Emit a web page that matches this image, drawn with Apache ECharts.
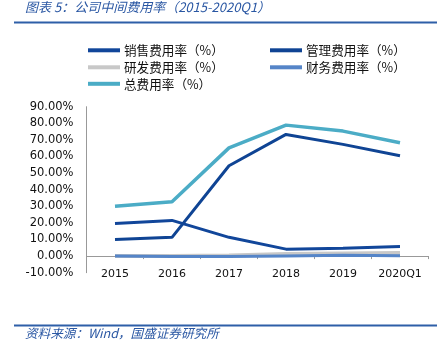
<!DOCTYPE html>
<html><head><meta charset="utf-8">
<script src="https://cdn.jsdelivr.net/npm/echarts@6/dist/echarts.min.js"></script>
<style>html,body{margin:0;padding:0;background:#fff}#c{width:445px;height:357px}</style>
</head><body><div id="c"></div>
<script>
var categories = ['2015','2016','2017','2018','2019','2020Q1'];
var seriesNames = ['销售费用率（%）','管理费用率（%）','研发费用率（%）','财务费用率（%）','总费用率（%）'];
var salesRate = [19.7, 21.5, 11.3, 4.2, 4.8, 5.8];
var mgmtRate = [10.0, 11.3, 54.4, 73.3, 67.3, 60.4];
var rdRate = [0, 0, 0.3, 1.2, 1.6, 1.8];
var finRate = [0.1, -0.3, -0.3, 0.1, 0.5, 0.2];
var totalRate = [30.1, 32.7, 65.2, 78.9, 75.3, 68.3];
var yTicks = {min: -10, max: 90, interval: 10};
var titleText = '图表 5：公司中间费用率（2015-2020Q1）';
var sourceText = '资料来源：Wind，国盛证券研究所';

var colors = ['#11469a', '#0f4494', '#c8c8c8', '#5585c8', '#4bacc6'];
var widths = [3, 3, 4, 3, 3.5];
var values = [salesRate, mgmtRate, rdRate, finRate, totalRate];
var legendPos = [[88,44],[270,44],[88,61],[270,61],[88,77.5]];

var chart = echarts.init(document.getElementById('c'), null, {renderer:'canvas'});
var legends = seriesNames.map(function(n, i){
  return {
    data: [n], left: legendPos[i][0], top: legendPos[i][1],
    icon: 'rect', itemWidth: 32, itemHeight: 4, itemGap: 0,
    padding: 0, selectedMode: false,
    textStyle: {fontFamily: '"Noto Sans CJK SC"', fontSize: 12.6, color: '#111', padding:[0,0,0,-1]}
  };
});
var series = seriesNames.map(function(n, i){
  return {
    name: n, type: 'line', data: values[i], symbol: 'none',
    lineStyle: {color: colors[i], width: widths[i]}, itemStyle: {color: colors[i]},
    z: 2 + i, animation: false
  };
});
chart.setOption({
  animation: false,
  legend: legends,
  grid: {left: 86.5, right: 16.5, top: 106.7, bottom: 84.3, containLabel: false},
  xAxis: [{
    type: 'category', data: categories, boundaryGap: true,
    axisLine: {onZero: true, lineStyle: {color: '#999', width: 1}},
    axisTick: {show: true, inside: false, length: 3, lineStyle: {color: '#999'}},
    axisLabel: {show: false}
  }, {
    type: 'category', data: categories, boundaryGap: true, position: 'bottom',
    axisLine: {show: false, onZero: false}, axisTick: {show: false},
    axisLabel: {margin: -4, fontFamily: '"DejaVu Sans"', fontSize: 11, color: '#111'}
  }],
  yAxis: {
    type: 'value', min: yTicks.min, max: yTicks.max, interval: yTicks.interval,
    splitLine: {show: false},
    axisLine: {show: true, lineStyle: {color: '#999'}},
    axisTick: {show: false},
    axisLabel: {margin: 13, fontFamily: '"DejaVu Sans"', fontSize: 11.5, color: '#111',
      formatter: function(v){ return v.toFixed(2) + '%'; }}
  },
  series: series,
  graphic: [
    {type:'text', left: 25, top: 1, style:{text: titleText, fontFamily:'"Noto Sans CJK SC"', fontStyle:'italic', fontSize: 13, fill:'#2a57a3'}},
    {type:'rect', shape:{x:14, y:21.5, width:423, height:2}, style:{fill:'#2e5fa8'}},
    {type:'rect', shape:{x:14, y:324.5, width:423, height:2}, style:{fill:'#2e5fa8'}},
    {type:'text', left: 25, top: 327, style:{text: sourceText, fontFamily:'"Noto Sans CJK SC"', fontStyle:'italic', fontSize: 12.6, fill:'#2a57a3'}}
  ]
});
</script></body></html>
